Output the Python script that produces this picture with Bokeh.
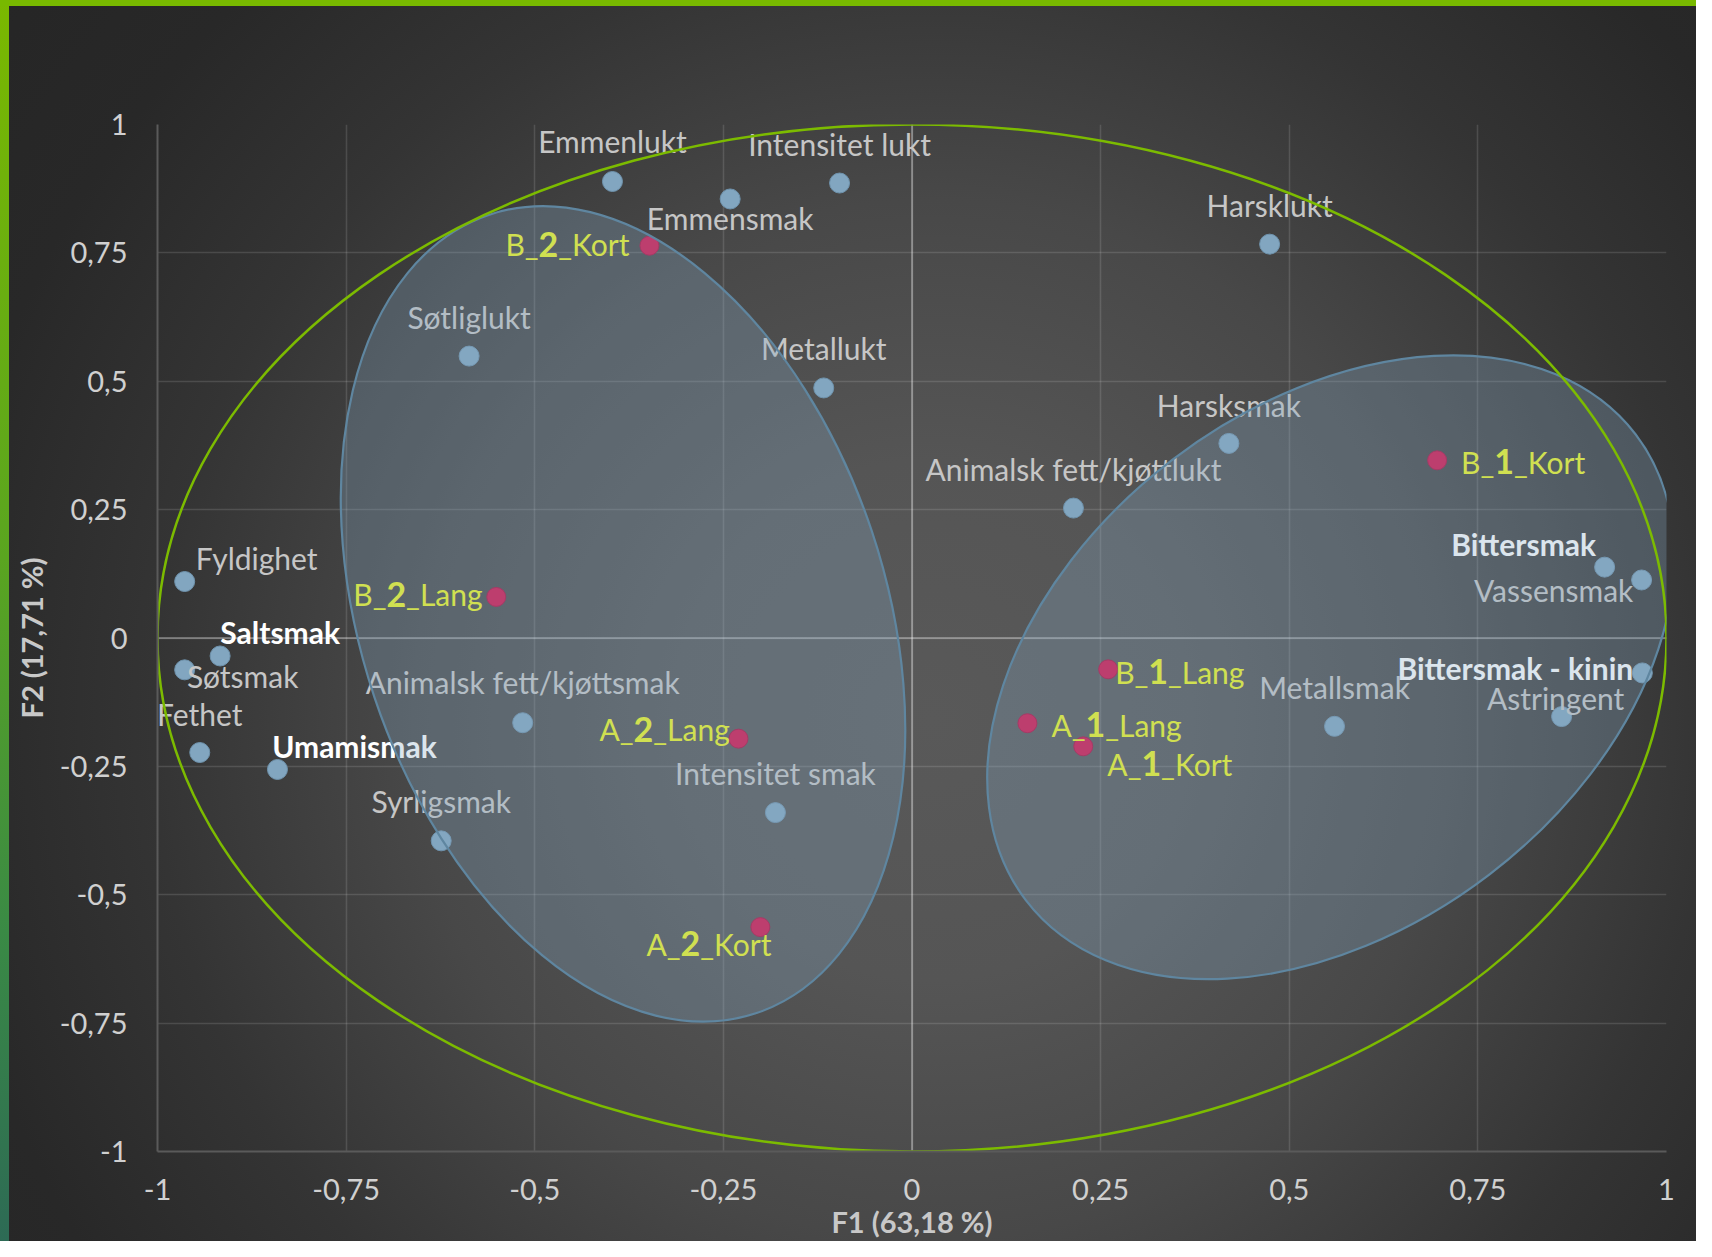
import math
from bokeh.plotting import figure
from bokeh.models import ColumnDataSource, FixedTicker, Span
from bokeh.core.properties import value
from bokeh.embed import file_html
from bokeh.resources import INLINE

# ---------------- data ----------------
var_names = ["Emmenlukt", "Intensitet lukt", "Emmensmak", "Harsklukt", "Søtliglukt",
             "Metallukt", "Harsksmak", "Animalsk fett/kjøttlukt", "Fyldighet", "Saltsmak",
             "Søtsmak", "Fethet", "Umamismak", "Animalsk fett/kjøttsmak", "Syrligsmak",
             "Intensitet smak", "Metallsmak", "Astringent", "Bittersmak - kinin",
             "Bittersmak", "Vassensmak"]
var_f1 = [-0.397, -0.096, -0.241, 0.474, -0.587, -0.117, 0.420, 0.214, -0.964, -0.917,
          -0.964, -0.944, -0.841, -0.516, -0.624, -0.181, 0.560, 0.861, 0.968, 0.918, 0.967]
var_f2 = [0.889, 0.886, 0.855, 0.767, 0.549, 0.487, 0.379, 0.253, 0.110, -0.035,
          -0.062, -0.223, -0.256, -0.165, -0.395, -0.340, -0.172, -0.153, -0.068, 0.138, 0.113]

obs_names = ["B_2_Kort", "B_2_Lang", "A_2_Lang", "A_2_Kort",
             "B_1_Kort", "B_1_Lang", "A_1_Lang", "A_1_Kort"]
obs_f1 = [-0.348, -0.551, -0.230, -0.201, 0.696, 0.260, 0.153, 0.227]
obs_f2 = [0.764, 0.080, -0.196, -0.563, 0.346, -0.061, -0.166, -0.211]

tick_values = [-1, -0.75, -0.5, -0.25, 0, 0.25, 0.5, 0.75, 1]
tick_labels = ["-1", "-0,75", "-0,5", "-0,25", "0", "0,25", "0,5", "0,75", "1"]
x_title = "F1 (63,18 %)"
y_title = "F2 (17,71 %)"

circle_radius = 1.0
group_cx = [-0.383, 0.555]
group_cy = [0.047, -0.057]
group_w = [0.695, 1.017]
group_h = [1.640, 1.017]
group_angle_deg = [18.5, 37.4]

# ---------------- layout / style (label offsets in screen px) ----------------
bold_vars = {"Saltsmak", "Umamismak", "Bittersmak", "Bittersmak - kinin"}
var_label_offset = {
    "Emmenlukt": (0, -39), "Intensitet lukt": (0, -38), "Emmensmak": (0, 21),
    "Harsklukt": (0, -38), "Søtliglukt": (0, -38), "Metallukt": (0, -38),
    "Harsksmak": (0, -37), "Animalsk fett/kjøttlukt": (0, -38), "Fyldighet": (72, -22),
    "Saltsmak": (60, -22), "Søtsmak": (58, 8), "Fethet": (0, -37), "Umamismak": (77, -22),
    "Animalsk fett/kjøttsmak": (0, -39), "Syrligsmak": (0, -38), "Intensitet smak": (0, -38),
    "Metallsmak": (0, -38), "Astringent": (-6, -17), "Bittersmak - kinin": (-127, -3),
    "Bittersmak": (-81, -22), "Vassensmak": (-88, 12),
}
obs_label_offset = {
    "B_2_Kort": (-101, 0), "B_2_Lang": (-100, -1), "A_2_Lang": (-95, -8),
    "A_2_Kort": (-70, 18), "B_1_Kort": (67, 3), "B_1_Lang": (50, 4),
    "A_1_Lang": (68, 3), "A_1_Kort": (68, 19),
}
FONT = "Lato"
LABEL_SIZE = 30
DIGIT_SIZE = 34
DIGIT_W = 19.7
CAP_SHIFT = -1.5

W, H = 1696, 1241
p = figure(width=W, height=H, x_range=(-1, 1), y_range=(-1, 1),
           output_backend="svg", toolbar_location=None,
           min_border_left=157, min_border_right=30,
           min_border_top=124, min_border_bottom=86)
p.background_fill_alpha = 0
p.border_fill_alpha = 0
p.outline_line_color = None
p.styles = {
    "background": (
        "linear-gradient(#78b900, #78b900) 0 0 / 100% 6px no-repeat, "
        "linear-gradient(to bottom, #7ab800 0%, #5aa520 45%, #3a8a45 75%, #2d6a55 100%) 0 0 / 9px 100% no-repeat, "
        "radial-gradient(circle at 55% 58%, #595959 0px, #555555 260px, #484848 520px, "
        "#343434 780px, #282828 1000px, #242424 1300px)"
    )
}

# grid
p.xgrid.ticker = FixedTicker(ticks=tick_values)
p.ygrid.ticker = FixedTicker(ticks=tick_values)
p.grid.grid_line_color = "white"
p.grid.grid_line_alpha = 0.13
p.grid.grid_line_width = 1.6

for dim in ("height", "width"):
    p.add_layout(Span(location=0, dimension=dim, line_color="white",
                      line_alpha=0.38, line_width=1.6, level="underlay"))

# axes
p.xaxis.ticker = tick_values
p.yaxis.ticker = tick_values
overrides = dict(zip(tick_values, tick_labels))
p.xaxis.major_label_overrides = overrides
p.yaxis.major_label_overrides = overrides
p.axis.major_tick_line_color = None
p.axis.minor_tick_line_color = None
p.axis.major_tick_out = 0
p.axis.major_tick_in = 0
p.axis.axis_line_color = "#5a5a5a"
p.axis.axis_line_width = 2
p.axis.major_label_text_font = FONT
p.axis.major_label_text_font_size = "29px"
p.axis.major_label_text_color = "#d0d0d0"
p.axis.axis_label_text_font = FONT
p.axis.axis_label_text_font_style = "bold"
p.axis.axis_label_text_font_size = "29px"
p.axis.axis_label_text_color = "#c8c8c8"
p.xaxis.axis_label = x_title
p.yaxis.axis_label = y_title
p.xaxis.major_label_standoff = 27
p.xaxis.axis_label_standoff = 1
p.yaxis.major_label_standoff = 30
p.yaxis.axis_label_standoff = 8

# points
p.scatter(var_f1, var_f2, size=20, fill_color="#82a6c0", line_color="#6f93ad", line_width=1)
p.scatter(obs_f1, obs_f2, size=19, fill_color="#d4104a", line_color="#b00c3d", line_width=1)

# variable labels
def var_source(names_sel):
    idx = [i for i, n in enumerate(var_names) if n in names_sel]
    return ColumnDataSource(dict(
        x=[var_f1[i] for i in idx], y=[var_f2[i] for i in idx],
        t=[var_names[i] for i in idx],
        dx=[var_label_offset[var_names[i]][0] for i in idx],
        dy=[var_label_offset[var_names[i]][1] + CAP_SHIFT for i in idx]))

regular = [n for n in var_names if n not in bold_vars]
p.text(x="x", y="y", text="t", x_offset="dx", y_offset="dy", source=var_source(regular),
       text_font=value(FONT), text_font_size=f"{LABEL_SIZE}px", text_color="#c6c6c6",
       text_align="center", text_baseline="alphabetic")
p.text(x="x", y="y", text="t", x_offset="dx", y_offset="dy", source=var_source(bold_vars),
       text_font=value(FONT), text_font_size=f"{LABEL_SIZE}px", text_font_style="bold",
       text_color="#ffffff", text_align="center", text_baseline="alphabetic")

# observation labels: prefix, bold digit, suffix
pre = [n[:2] for n in obs_names]
dig = [n[2] for n in obs_names]
suf = [n[3:] for n in obs_names]
odx = [obs_label_offset[n][0] for n in obs_names]
ody = [obs_label_offset[n][1] + CAP_SHIFT for n in obs_names]
osrc = ColumnDataSource(dict(x=obs_f1, y=obs_f2, pre=pre, dig=dig, suf=suf,
                             dpre=[d - DIGIT_W / 2 for d in odx], ddig=odx,
                             dsuf=[d + DIGIT_W / 2 for d in odx], dy=ody))
YEL = "#f0f820"
p.text(x="x", y="y", text="pre", x_offset="dpre", y_offset="dy", source=osrc,
       text_font=value(FONT), text_font_size=f"{LABEL_SIZE}px", text_color=YEL,
       text_align="right", text_baseline="alphabetic")
p.text(x="x", y="y", text="dig", x_offset="ddig", y_offset="dy", source=osrc,
       text_font=value(FONT), text_font_size=f"{DIGIT_SIZE}px", text_font_style="bold",
       text_color=YEL, text_align="center", text_baseline="alphabetic")
p.text(x="x", y="y", text="suf", x_offset="dsuf", y_offset="dy", source=osrc,
       text_font=value(FONT), text_font_size=f"{LABEL_SIZE}px", text_color=YEL,
       text_align="left", text_baseline="alphabetic")

# group ellipses (drawn over points/labels)
p.ellipse(x=group_cx, y=group_cy, width=group_w, height=group_h,
          angle=[math.radians(a) for a in group_angle_deg],
          fill_color="#87a8c3", fill_alpha=0.3, line_color="#5f86a0", line_width=2.2)

# correlation circle
p.ellipse(x=[0], y=[0], width=[2 * circle_radius], height=[2 * circle_radius],
          fill_color=None, line_color="#7cbb00", line_width=2.5)

open("out.html", "w").write(file_html(p, INLINE))
